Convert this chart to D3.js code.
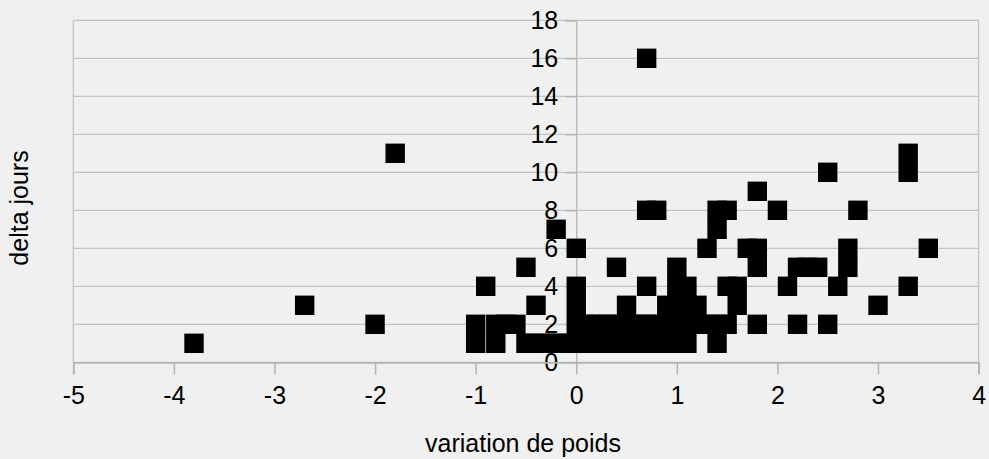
<!DOCTYPE html>
<html>
<head>
<meta charset="utf-8">
<script src="https://cdn.jsdelivr.net/npm/d3@7"></script>
<style>
  html, body { margin: 0; padding: 0; background: #f0f0f0; }
  svg { display: block; }
</style>
</head>
<body>
<svg id="chart" width="989" height="459"></svg>
<script>
// ---- data ----
const variation = [
  -3.8, -2.7, -2.0, -1.8, 0.7,
  -1.0, -1.0, -0.8, -0.7, -0.6, -0.8, -0.9, -0.5, -0.4, -0.2,
  -0.5, -0.4, -0.3, -0.2, -0.1, 0.0, 0.1, 0.2, 0.3, 0.4, 0.5, 0.6, 0.7, 0.8, 0.9, 1.0, 1.1, 1.4,
  0.0, 0.1, 0.2, 0.3, 0.4, 0.5, 0.6, 0.7, 0.8, 0.9, 1.0, 1.1, 1.2, 1.3, 1.4, 1.5, 1.8, 2.2, 2.5,
  0.0, 0.5, 0.9, 1.0, 1.1, 1.2, 1.6, 3.0,
  0.0, 0.7, 1.0, 1.1, 1.5, 1.6, 2.1, 2.6, 3.3,
  0.4, 1.0, 1.8, 2.2, 2.3, 2.4, 2.7,
  0.0, 1.3, 1.7, 1.8, 2.7, 3.5,
  1.4,
  0.7, 0.8, 1.4, 1.5, 2.0, 2.8,
  1.8,
  2.5, 3.3,
  3.3
];
const deltaJours = [
  1, 3, 2, 11, 16,
  2, 1, 2, 2, 2, 1, 4, 5, 3, 7,
  1, 1, 1, 1, 1, 1, 1, 1, 1, 1, 1, 1, 1, 1, 1, 1, 1, 1,
  2, 2, 2, 2, 2, 2, 2, 2, 2, 2, 2, 2, 2, 2, 2, 2, 2, 2, 2,
  3, 3, 3, 3, 3, 3, 3, 3,
  4, 4, 4, 4, 4, 4, 4, 4, 4,
  5, 5, 5, 5, 5, 5, 5,
  6, 6, 6, 6, 6, 6,
  7,
  8, 8, 8, 8, 8, 8,
  9,
  10, 10,
  11
];
const xTicks = [-5, -4, -3, -2, -1, 0, 1, 2, 3, 4];
const yTicks = [0, 2, 4, 6, 8, 10, 12, 14, 16, 18];
const xTitle = "variation de poids";
const yTitle = "delta jours";

// ---- drawing ----
const svg = d3.select("#chart");
const pLeft = 73.3, pRight = 978.6, pTop = 20.3, pBottom = 362.3;
const x = d3.scaleLinear().domain([-5, 4]).range([pLeft, pRight]);
const y = d3.scaleLinear().domain([0, 18]).range([pBottom, pTop]);
const font = "'Liberation Sans', Arial, sans-serif";
const gridColor = "#c3c3c3";
const axisColor = "#b3b3b3";
const fs = 25;

svg.append("rect").attr("width", 989).attr("height", 459).attr("fill", "#f0f0f0");

// horizontal gridlines
svg.append("g").selectAll("line").data(yTicks).join("line")
  .attr("x1", pLeft).attr("x2", pRight)
  .attr("y1", d => y(d)).attr("y2", d => y(d))
  .attr("stroke", gridColor).attr("stroke-width", 1.3);

// plot borders left/right
svg.append("line").attr("x1", pLeft).attr("x2", pLeft).attr("y1", pTop).attr("y2", pBottom)
  .attr("stroke", gridColor).attr("stroke-width", 1.3);
svg.append("line").attr("x1", pRight).attr("x2", pRight).attr("y1", pTop).attr("y2", pBottom)
  .attr("stroke", gridColor).attr("stroke-width", 1.3);

// y axis at x = 0
const yAxis = d3.axisLeft(y).tickValues(yTicks).tickSize(11).tickPadding(7).tickFormat(d => String(d));
const gy = svg.append("g").attr("transform", `translate(${x(0)},0)`).call(yAxis);
gy.select(".domain").attr("stroke", axisColor).attr("stroke-width", 1.3);
gy.selectAll(".tick line").attr("stroke", axisColor).attr("stroke-width", 1.3);
gy.selectAll(".tick text").attr("font-family", font).attr("font-size", fs).attr("fill", "#000");

// x axis at y = 0
const xAxis = d3.axisBottom(x).tickValues(xTicks).tickSize(12).tickPadding(12).tickFormat(d => String(d));
const gx = svg.append("g").attr("transform", `translate(0,${y(0)})`).call(xAxis);
gx.select(".domain").attr("stroke", axisColor).attr("stroke-width", 1.8);
gx.selectAll(".tick line").attr("stroke", axisColor).attr("stroke-width", 1.5);
gx.selectAll(".tick text").attr("font-family", font).attr("font-size", fs).attr("fill", "#000");

// points
const size = 19.4;
svg.append("g").selectAll("rect").data(d3.range(variation.length)).join("rect")
  .attr("x", i => x(variation[i]) - size / 2)
  .attr("y", i => y(deltaJours[i]) - size / 2)
  .attr("width", size).attr("height", size)
  .attr("fill", "#000");

// titles
svg.append("text").attr("x", 523).attr("y", 452)
  .attr("text-anchor", "middle").attr("font-family", font).attr("font-size", fs)
  .attr("fill", "#000").text(xTitle);
svg.append("text").attr("transform", `translate(28,208) rotate(-90)`)
  .attr("text-anchor", "middle").attr("font-family", font).attr("font-size", fs)
  .attr("fill", "#000").text(yTitle);
</script>
</body>
</html>
